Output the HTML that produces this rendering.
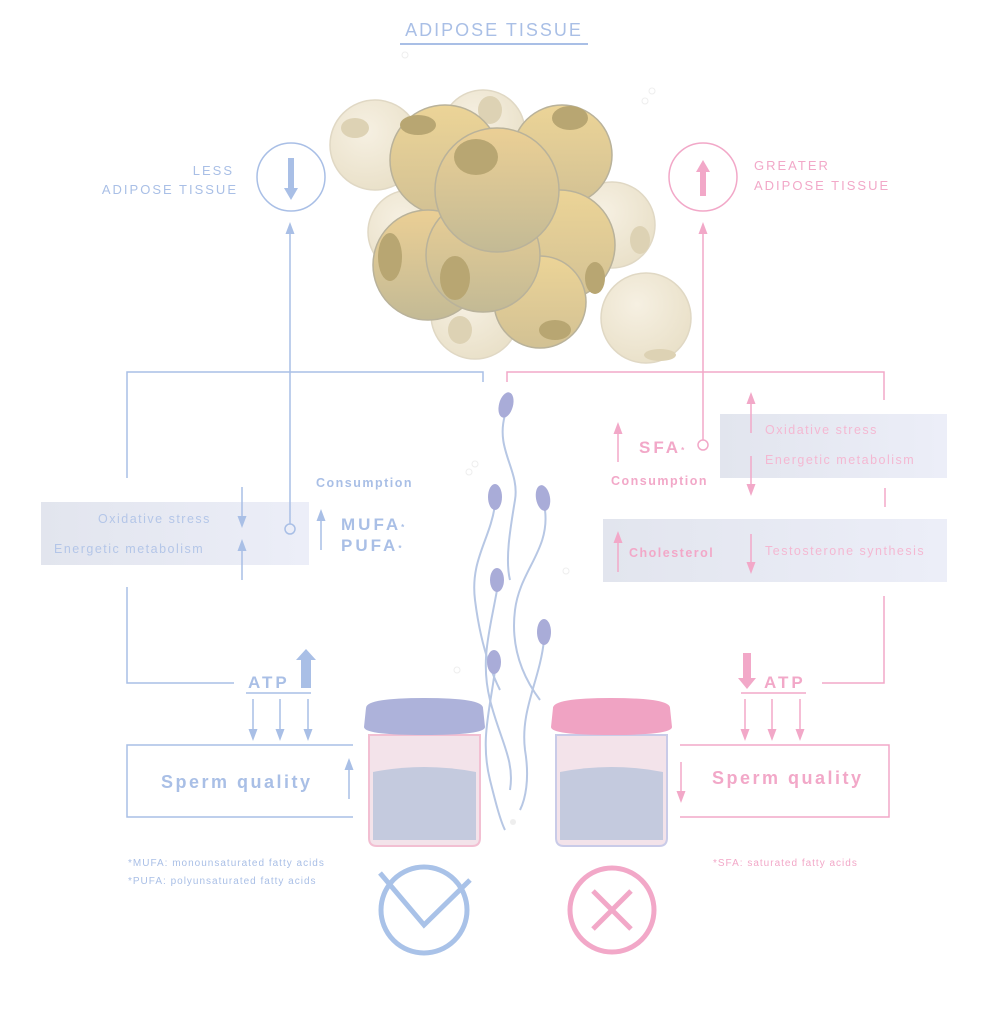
<!DOCTYPE html>
<html><head><meta charset="utf-8"><style>
html,body{margin:0;padding:0;background:#fff}
svg{display:block}
text{font-family:"Liberation Sans",sans-serif}
</style></head><body>
<svg width="988" height="1024" viewBox="0 0 988 1024" xmlns="http://www.w3.org/2000/svg">
<defs>
<radialGradient id="light" cx="40%" cy="35%" r="70%"><stop offset="0" stop-color="#f6f0e2"/><stop offset="1" stop-color="#e9e0c8"/></radialGradient>
<linearGradient id="dark" x1="0" y1="0" x2="0" y2="1"><stop offset="0" stop-color="#ecd497"/><stop offset="1" stop-color="#d2c194"/></linearGradient>
<linearGradient id="dark2" x1="0" y1="0" x2="0" y2="1"><stop offset="0" stop-color="#ebcf95"/><stop offset="1" stop-color="#c3ba95"/></linearGradient>
<linearGradient id="box" x1="0" y1="0" x2="1" y2="0"><stop offset="0" stop-color="#e2e5ee"/><stop offset="1" stop-color="#eceef8"/></linearGradient>
<marker id="ab" markerWidth="8" markerHeight="8" refX="4" refY="4" orient="auto-start-reverse"><path d="M0,1 L8,4 L0,7 z" fill="#a9bfe6"/></marker>
<marker id="ap" markerWidth="8" markerHeight="8" refX="4" refY="4" orient="auto-start-reverse"><path d="M0,1 L8,4 L0,7 z" fill="#f2a8c8"/></marker>
</defs>

<!-- title -->
<text x="494" y="36" text-anchor="middle" font-size="18" fill="#a9bfe6" letter-spacing="2">ADIPOSE TISSUE</text>
<line x1="400" y1="44" x2="588" y2="44" stroke="#a9bfe6" stroke-width="2"/>
<circle cx="405" cy="55" r="3" fill="none" stroke="#eee"/>
<circle cx="645" cy="101" r="3" fill="none" stroke="#eee"/><circle cx="652" cy="91" r="3" fill="none" stroke="#eee"/>

<!-- fat cells -->
<g stroke="#e0d8c4" stroke-width="1.5">
<circle cx="375" cy="145" r="45" fill="url(#light)"/>
<circle cx="483" cy="132" r="42" fill="url(#light)"/>
<circle cx="410" cy="232" r="42" fill="url(#light)"/>
<circle cx="475" cy="315" r="44" fill="url(#light)"/>
<circle cx="612" cy="225" r="43" fill="url(#light)"/>
<circle cx="646" cy="318" r="45" fill="url(#light)"/>
</g>
<g fill="#ddd2b4"><ellipse cx="355" cy="128" rx="14" ry="10"/><ellipse cx="490" cy="110" rx="12" ry="14"/><ellipse cx="460" cy="330" rx="12" ry="14"/><ellipse cx="640" cy="240" rx="10" ry="14"/><ellipse cx="660" cy="355" rx="16" ry="6"/></g>
<g stroke="#b9b29a" stroke-width="1.5">
<circle cx="445" cy="160" r="55" fill="url(#dark)"/>
<circle cx="562" cy="155" r="50" fill="url(#dark)"/>
<circle cx="428" cy="265" r="55" fill="url(#dark2)"/>
<circle cx="560" cy="245" r="55" fill="url(#dark)"/>
<circle cx="540" cy="302" r="46" fill="url(#dark)"/>
<circle cx="483" cy="255" r="57" fill="url(#dark2)"/>
<circle cx="497" cy="190" r="62" fill="url(#dark2)"/>
</g>
<g fill="#b8a672"><ellipse cx="418" cy="125" rx="18" ry="10"/><ellipse cx="570" cy="118" rx="18" ry="12"/><ellipse cx="476" cy="157" rx="22" ry="18"/><ellipse cx="390" cy="257" rx="12" ry="24"/><ellipse cx="455" cy="278" rx="15" ry="22"/><ellipse cx="595" cy="278" rx="10" ry="16"/><ellipse cx="555" cy="330" rx="16" ry="10"/></g>

<!-- boxes first -->
<rect x="41" y="502" width="268" height="63" fill="url(#box)"/>
<rect x="720" y="414" width="227" height="64" fill="url(#box)"/>
<rect x="603" y="519" width="344" height="63" fill="url(#box)"/>

<!-- left side -->
<g fill="none" stroke="#a9bfe6" stroke-width="1.5">
<circle cx="291" cy="177" r="34"/>
<line x1="290" y1="228" x2="290" y2="524" marker-start="url(#ab)"/>
<circle cx="290" cy="529" r="5" fill="#eceef8"/>
<polyline points="127,478 127,372 483,372 483,382"/>
<polyline points="127,587 127,683 234,683"/>
<line x1="242" y1="487" x2="242" y2="522" marker-end="url(#ab)"/>
<line x1="242" y1="580" x2="242" y2="545" marker-end="url(#ab)"/>
<line x1="321" y1="550" x2="321" y2="515" marker-end="url(#ab)"/>
<line x1="246" y1="693" x2="311" y2="693"/>
<line x1="253" y1="699" x2="253" y2="735" marker-end="url(#ab)"/>
<line x1="280" y1="699" x2="280" y2="735" marker-end="url(#ab)"/>
<line x1="308" y1="699" x2="308" y2="735" marker-end="url(#ab)"/>
<polyline points="353,745 127,745 127,817 353,817"/>
<line x1="349" y1="799" x2="349" y2="764" marker-end="url(#ab)"/>
</g>
<path d="M288,158 L288,188 L284,188 L291,200 L298,188 L294,188 L294,158z" fill="#a9bfe6"/>
<path d="M301,688 L301,660 L296,660 L306,649 L316,660 L311,660 L311,688z" fill="#a9bfe6"/>
<g fill="#b4c6e8" font-size="12.5" letter-spacing="1.5">
<text x="98" y="523">Oxidative stress</text>
<text x="54" y="553">Energetic metabolism</text>
</g>
<g fill="#a9bfe6">
<text x="234" y="175" text-anchor="end" font-size="13" letter-spacing="2">LESS</text>
<text x="238" y="194" text-anchor="end" font-size="13" letter-spacing="2">ADIPOSE TISSUE</text>
<text x="316" y="487" font-size="12.5" font-weight="bold" letter-spacing="1.5">Consumption</text>
<text x="341" y="530" font-size="17" font-weight="bold" letter-spacing="3">MUFA<tspan font-size="8">*</tspan></text>
<text x="341" y="551" font-size="17" font-weight="bold" letter-spacing="3">PUFA<tspan font-size="8">*</tspan></text>
<text x="248" y="688" font-size="17" font-weight="bold" letter-spacing="3">ATP</text>
<text x="161" y="788" font-size="18" font-weight="bold" letter-spacing="2.5">Sperm quality</text>
<text x="128" y="866" font-size="10" letter-spacing="1">*MUFA: monounsaturated fatty acids</text>
<text x="128" y="884" font-size="10" letter-spacing="1">*PUFA: polyunsaturated fatty acids</text>
</g>
<circle cx="424" cy="910" r="43" fill="none" stroke="#a9c2e8" stroke-width="5"/>
<polyline points="380,873 424,925 470,880" fill="none" stroke="#a9c2e8" stroke-width="5"/>

<!-- right side -->
<g fill="none" stroke="#f2a8c8" stroke-width="1.5">
<circle cx="703" cy="177" r="34"/>
<line x1="703" y1="228" x2="703" y2="440" marker-start="url(#ap)"/>
<circle cx="703" cy="445" r="5" fill="#fff"/>
<polyline points="507,382 507,372 884,372 884,400"/>
<line x1="885" y1="488" x2="885" y2="507"/>
<polyline points="884,596 884,683 822,683"/>
<line x1="618" y1="462" x2="618" y2="428" marker-end="url(#ap)"/>
<line x1="751" y1="433" x2="751" y2="398" marker-end="url(#ap)"/>
<line x1="751" y1="456" x2="751" y2="490" marker-end="url(#ap)"/>
<line x1="618" y1="572" x2="618" y2="537" marker-end="url(#ap)"/>
<line x1="751" y1="534" x2="751" y2="568" marker-end="url(#ap)"/>
<line x1="741" y1="693" x2="806" y2="693"/>
<line x1="745" y1="699" x2="745" y2="735" marker-end="url(#ap)"/>
<line x1="772" y1="699" x2="772" y2="735" marker-end="url(#ap)"/>
<line x1="800" y1="699" x2="800" y2="735" marker-end="url(#ap)"/>
<polyline points="680,745 889,745 889,817 680,817"/>
<line x1="681" y1="762" x2="681" y2="797" marker-end="url(#ap)"/>
</g>
<path d="M743,653 L743,678 L738,678 L747,689 L756,678 L751,678 L751,653z" fill="#f2a8c8"/>
<path d="M700,196 L700,172 L696,172 L703,160 L710,172 L706,172 L706,196z" fill="#f2a8c8"/>
<g fill="#f2a8c8">
<text x="754" y="170" font-size="13" letter-spacing="2">GREATER</text>
<text x="754" y="190" font-size="13" letter-spacing="2">ADIPOSE TISSUE</text>
<text x="639" y="453" font-size="17" font-weight="bold" letter-spacing="3">SFA<tspan font-size="8">*</tspan></text>
<text x="611" y="485" font-size="12.5" font-weight="bold" letter-spacing="1.5">Consumption</text>
<text x="629" y="557" font-size="12.5" font-weight="bold" letter-spacing="1.5">Cholesterol</text>
<text x="764" y="688" font-size="17" font-weight="bold" letter-spacing="3">ATP</text>
<text x="712" y="784" font-size="18" font-weight="bold" letter-spacing="2.5">Sperm quality</text>
<text x="713" y="866" font-size="10" letter-spacing="1">*SFA: saturated fatty acids</text>
</g>
<g fill="#f4b8d2" font-size="12.5" letter-spacing="1.5">
<text x="765" y="434">Oxidative stress</text>
<text x="765" y="464">Energetic metabolism</text>
<text x="765" y="555">Testosterone synthesis</text>
</g>
<circle cx="612" cy="910" r="42" fill="none" stroke="#f2a8c8" stroke-width="5"/>
<g stroke="#f2a8c8" stroke-width="5"><line x1="593" y1="891" x2="631" y2="929"/><line x1="631" y1="891" x2="593" y2="929"/></g>

<!-- sperm -->
<g fill="none" stroke="#b7c7e4" stroke-width="2">
<path d="M505,415 C495,450 520,470 515,500 C510,530 505,560 510,580"/>
<path d="M495,505 C490,540 470,560 475,600 C480,640 490,670 500,690"/>
<path d="M545,510 C550,550 520,570 515,610 C510,650 525,680 540,700"/>
<path d="M497,590 C490,630 480,660 490,700 C500,740 515,760 510,790"/>
<path d="M544,640 C540,680 520,710 525,750 C530,780 525,800 520,810"/>
<path d="M495,670 C490,710 480,740 490,780 C495,800 500,820 505,830"/>
</g>
<g fill="#a9acd8">
<ellipse cx="506" cy="405" rx="7" ry="13" transform="rotate(15 506 405)"/>
<ellipse cx="495" cy="497" rx="7" ry="13"/>
<ellipse cx="543" cy="498" rx="7" ry="13" transform="rotate(-10 543 498)"/>
<ellipse cx="497" cy="580" rx="7" ry="12"/>
<ellipse cx="544" cy="632" rx="7" ry="13"/>
<ellipse cx="494" cy="662" rx="7" ry="12"/>
</g>
<circle cx="469" cy="472" r="3" fill="none" stroke="#eee"/><circle cx="475" cy="464" r="3" fill="none" stroke="#eee"/>
<circle cx="457" cy="670" r="3" fill="none" stroke="#eee"/><circle cx="566" cy="571" r="3" fill="none" stroke="#eee"/>
<circle cx="513" cy="822" r="3" fill="#eee"/>

<!-- cups -->
<g>
<path d="M369,735 L369,838 Q369,846 377,846 L472,846 Q480,846 480,838 L480,735z" fill="#f3e3ea" stroke="#f2bfd2" stroke-width="2"/>
<path d="M373,772 Q424,762 476,772 L476,840 L373,840z" fill="#c4cade"/>
<path d="M366,708 Q366,698 424,698 Q483,698 483,708 L485,727 Q485,735 424,735 Q364,735 364,727z" fill="#adb2da"/>
<path d="M556,735 L556,838 Q556,846 564,846 L659,846 Q667,846 667,838 L667,735z" fill="#f3e3ea" stroke="#c9cbe8" stroke-width="2"/>
<path d="M560,772 Q611,762 663,772 L663,840 L560,840z" fill="#c4cade"/>
<path d="M553,708 Q553,698 611,698 Q670,698 670,708 L672,727 Q672,735 611,735 Q551,735 551,727z" fill="#f0a3c3"/>
</g>
</svg>
</body></html>
